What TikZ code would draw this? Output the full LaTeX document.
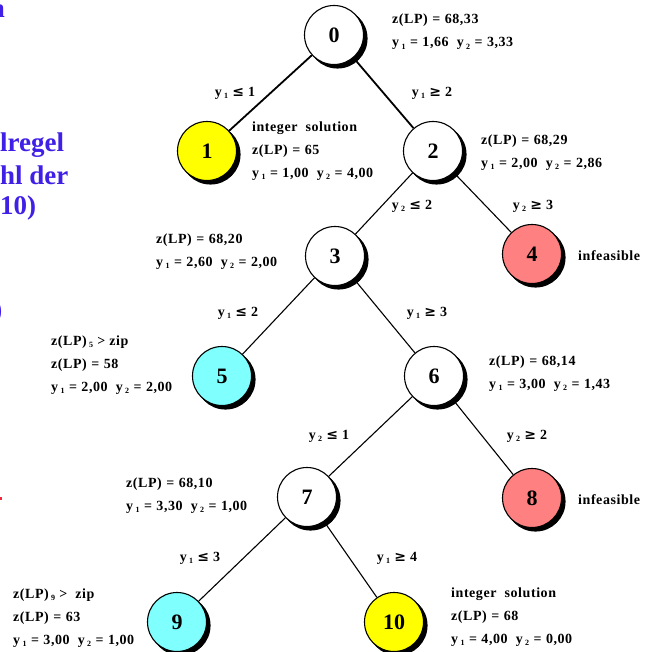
\documentclass[tikz,border=0pt]{standalone}
\usepackage{fontspec}
\setmainfont{Liberation Serif}
\newfontfamily\lblfam[LetterSpace=4]{Liberation Serif}
\newfontfamily\symfam{DejaVu Serif}
\usetikzlibrary{shadows}
\definecolor{slideblue}{RGB}{64,32,230}
\definecolor{slidered}{RGB}{240,40,60}
\definecolor{solyellow}{RGB}{255,255,0}
\definecolor{prunecyan}{RGB}{128,255,255}
\definecolor{infred}{RGB}{255,128,128}
\newcommand{\yv}[1]{y\,\raisebox{-0.4ex}{\fontsize{8}{8}\selectfont #1}}
\newcommand{\leqs}{{\symfam\bfseries\fontsize{14}{14}\selectfont ≤}}
\newcommand{\geqs}{{\symfam\bfseries\fontsize{14}{14}\selectfont ≥}}
\newcommand{\eqs}{\hspace{0.32em}=\hspace{0.32em}}
\tikzset{
  bbnode/.style={circle, minimum size=59pt, inner sep=0pt, draw=black, line width=1.1pt,
    fill=white, font=\fontsize{22}{22}\selectfont\bfseries,
    general shadow={fill=black, draw=black, shadow xshift=3.5pt, shadow yshift=-3.5pt}},
  info/.style={anchor=west, align=left, inner sep=0pt,
    font=\lblfam\bfseries\fontsize{14}{23}\selectfont},
  elab/.style={inner sep=0pt, font=\lblfam\bfseries\fontsize{14}{16}\selectfont},
  thinedge/.style={line width=1.1pt},
  thickedge/.style={line width=1.8pt},
  cuttext/.style={text=slideblue, anchor=base west, inner sep=0pt,
    font=\bfseries\fontsize{27}{33}\selectfont},
}
\begin{document}
\begin{tikzpicture}[x=1pt,y=-1pt]
\useasboundingbox (0,0) rectangle (653,652);
\clip (0,0) rectangle (653,652);
% clipped slide text at the left edge
\node[cuttext, anchor=base east] (c1) at (5,18) {n};
\node[cuttext] (c2) at (0,152) {lregel};
\node[cuttext] (c3) at (0,185) {hl der};
\node[cuttext] (c4) at (0,215) {10)};
\node[cuttext, anchor=base east] (c5) at (2.5,318) {)};
\fill[slidered] (0,497) rectangle (1.5,500);
% tree nodes
\node[bbnode] (n0) at (334,35) {0};
\node[bbnode, fill=solyellow] (n1) at (207,151) {1};
\node[bbnode] (n2) at (433,151) {2};
\node[bbnode] (n3) at (335,256) {3};
\node[bbnode, fill=infred] (n4) at (532,254) {4};
\node[bbnode, fill=prunecyan] (n5) at (222,376) {5};
\node[bbnode] (n6) at (434,376) {6};
\node[bbnode] (n7) at (307,497) {7};
\node[bbnode, fill=infred] (n8) at (532,498) {8};
\node[bbnode, fill=prunecyan] (n9) at (177,622) {9};
\node[bbnode, fill=solyellow] (n10) at (394,622) {10};
% connectors
\draw[thickedge] (n0) -- (n1);
\draw[thickedge] (n0) -- (n2);
\draw[thinedge] (n2) -- (n3);
\draw[thinedge] (n2) -- (n4);
\draw[thinedge] (n3) -- (n5);
\draw[thinedge] (n3) -- (n6);
\draw[thinedge] (n6) -- (n7);
\draw[thinedge] (n6) -- (n8);
\draw[thinedge] (n7) -- (n9);
\draw[thinedge] (n7) -- (n10);
% branch labels
\node[elab] (e01) at (235,93) {\yv1 \leqs\ 1};
\node[elab] (e02) at (432,93) {\yv1 \geqs\ 2};
\node[elab] (e23) at (412,206) {\yv2 \leqs\ 2};
\node[elab] (e24) at (533,206) {\yv2 \geqs\ 3};
\node[elab] (e35) at (238,313) {\yv1 \leqs\ 2};
\node[elab] (e36) at (427,313) {\yv1 \geqs\ 3};
\node[elab] (e67) at (329,436) {\yv2 \leqs\ 1};
\node[elab] (e68) at (527,436) {\yv2 \geqs\ 2};
\node[elab] (e79) at (200,558) {\yv1 \leqs\ 3};
\node[elab] (e710) at (397,558) {\yv1 \geqs\ 4};
% info blocks
\node[info] (i0) at (392,32) {z(LP)\eqs68,33\\\yv1\eqs1,66 \ \yv2\eqs3,33};
\node[info] (i1) at (252,151) {integer \ solution\\z(LP)\eqs65\\\yv1\eqs1,00 \ \yv2\eqs4,00};
\node[info] (i2) at (481,152.5) {z(LP)\eqs68,29\\\yv1\eqs2,00 \ \yv2\eqs2,86};
\node[info] (i3) at (156,251.5) {z(LP)\eqs68,20\\\yv1\eqs2,60 \ \yv2\eqs2,00};
\node[info] (i4) at (578,256) {infeasible};
\node[info] (i5) at (51,365) {z(LP)\,\raisebox{-0.4ex}{\fontsize{8}{8}\selectfont 5} > zip\\z(LP)\eqs58\\\yv1\eqs2,00 \ \yv2\eqs2,00};
\node[info] (i6) at (489,373.5) {z(LP)\eqs68,14\\\yv1\eqs3,00 \ \yv2\eqs1,43};
\node[info] (i7) at (126,495.5) {z(LP)\eqs68,10\\\yv1\eqs3,30 \ \yv2\eqs1,00};
\node[info] (i8) at (578,500) {infeasible};
\node[info] (i9) at (13,618) {z(LP)\,\raisebox{-0.4ex}{\fontsize{8}{8}\selectfont 9} > \ zip\\z(LP)\eqs63\\\yv1\eqs3,00 \ \yv2\eqs1,00};
\node[info] (i10) at (451,617) {integer \ solution\\z(LP)\eqs68\\\yv1\eqs4,00 \ \yv2\eqs0,00};
\end{tikzpicture}
\end{document}
